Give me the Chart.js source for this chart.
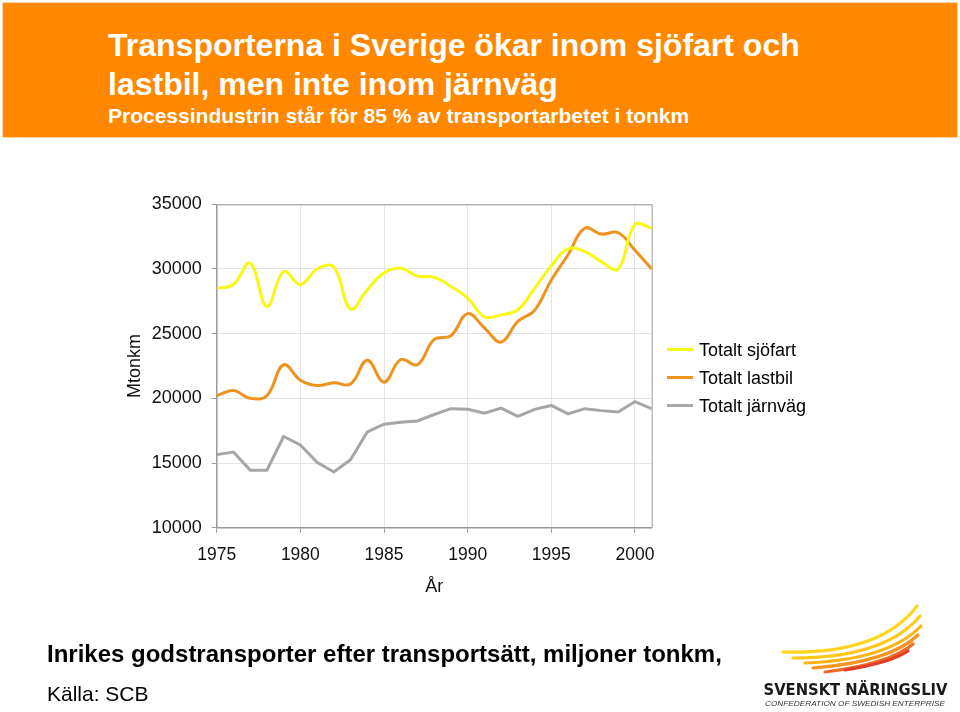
<!DOCTYPE html>
<html>
<head>
<meta charset="utf-8">
<script src="https://cdn.jsdelivr.net/npm/chart.js@4"></script>
<style>
  html, body { margin: 0; padding: 0; background: #fff; }
  body { width: 960px; height: 712px; position: relative; overflow: hidden;
         font-family: 'Liberation Sans', Arial, Helvetica, sans-serif; }
  #c { position: absolute; left: 0; top: 0; }
  .abs { position: absolute; white-space: nowrap; }
  #header { left: 2px; top: 2px; width: 954px; height: 134px; background: #FF8800;
            border: 1px solid #FFD6A3; }
  .t1 { left: 108px; top: 26px; font-size: 32px; line-height: 39px; font-weight: bold; color: #fff; }
  .t2 { left: 108px; top: 105px; font-size: 21px; line-height: 21px; font-weight: bold; color: #fff; }
  .f1 { left: 47px; top: 642px; font-size: 24px; line-height: 24px; font-weight: bold; color: #000; }
  .f2 { left: 47px; top: 683px; font-size: 21px; line-height: 21px; color: #000; }
  .lg-line { position: absolute; left: 667px; width: 26px; height: 3px; }
  .lg-text { position: absolute; left: 699px; font-size: 18px; line-height: 18px; color: #000; white-space: nowrap; }
</style>
</head>
<body>
<canvas id="c" width="960" height="712"></canvas>
<div id="header" class="abs"></div>
<div class="abs t1">Transporterna i Sverige ökar inom sjöfart och<br>lastbil, men inte inom järnväg</div>
<div class="abs t2">Processindustrin står för 85 % av transportarbetet i tonkm</div>
<div id="legend"></div>
<div class="abs f1">Inrikes godstransporter efter transportsätt, miljoner tonkm,</div>
<div class="abs f2">Källa: SCB</div>
<svg class="abs" style="left:750px;top:600px" width="210" height="112" viewBox="0 0 210 112">
  <g fill="none" stroke-linecap="round">
    <path d="M33 52 Q130 55 167 6" stroke="#FFD51F" stroke-width="3.2"/>
    <path d="M43 58 Q135 58 170 16" stroke="#FFC81A" stroke-width="3.2"/>
    <path d="M55 63 Q138 60 171 26" stroke="#FDB515" stroke-width="3.2"/>
    <path d="M63 68 Q140 62 168 35" stroke="#F7941D" stroke-width="3.2"/>
    <path d="M75 72 Q140 64 163 44" stroke="#EF6B22" stroke-width="3.2"/>
    <path d="M95 70 Q140 63 158 51" stroke="#E53C2A" stroke-width="3.2"/>
  </g>
  <text x="13.5" y="95" font-family="'DejaVu Sans', 'Liberation Sans', Arial, sans-serif" font-weight="bold" font-size="16.5" fill="#1a1a1a" textLength="184" lengthAdjust="spacingAndGlyphs">SVENSKT NÄRINGSLIV</text>
  <text x="15" y="106" font-family="'Liberation Sans', Arial, sans-serif" font-style="italic" font-size="7" fill="#333" textLength="180" lengthAdjust="spacingAndGlyphs">CONFEDERATION OF SWEDISH ENTERPRISE</text>
</svg>
<script>
// ---- data ----
const years = [1975, 1976, 1977, 1978, 1979, 1980, 1981, 1982, 1983, 1984,
               1985, 1986, 1987, 1988, 1989, 1990, 1991, 1992, 1993, 1994,
               1995, 1996, 1997, 1998, 1999, 2000, 2001];
const sjofart = [28500, 28800, 30450, 27100, 29800, 28800, 30000, 30150, 26900, 28400,
                 29700, 30050, 29450, 29350, 28650, 27750, 26300, 26450, 26850, 28500,
                 30250, 31550, 31350, 30550, 30000, 33450, 33150];
const lastbil = [20200, 20600, 20000, 20200, 22600, 21400, 21000, 21200, 21100, 22950,
                 21250, 23000, 22600, 24550, 24850, 26550, 25450, 24350, 25950, 26800,
                 29150, 31100, 33150, 32700, 32800, 31450, 30000];
const jarnvag = [15650, 15850, 14450, 14450, 17050, 16400, 15050, 14300, 15250, 17400,
                 18000, 18150, 18250, 18750, 19200, 19150, 18850, 19250, 18600, 19150,
                 19450, 18800, 19200, 19050, 18950, 19750, 19200];
const seriesNames = ['Totalt sjöfart', 'Totalt lastbil', 'Totalt järnväg'];
const xTickValues = [1975, 1980, 1985, 1990, 1995, 2000];
const yTickValues = [10000, 15000, 20000, 25000, 30000, 35000];

const colors = ['#F8F814', '#F0921E', '#A6A6A6'];
const series = [sjofart, lastbil, jarnvag];
const tensions = [0.4, 0.4, 0];

const datasets = series.map((vals, i) => ({
  label: seriesNames[i],
  data: years.map((yr, k) => ({ x: yr, y: vals[k] })),
  borderColor: colors[i],
  backgroundColor: colors[i],
  borderWidth: 3,
  pointRadius: 0,
  tension: tensions[i],
  fill: false
}));

// HTML legend from the same dataset info
const lg = document.getElementById('legend');
const rowY = [349.3, 377.3, 405.3];
datasets.forEach((ds, i) => {
  const l = document.createElement('div');
  l.className = 'lg-line';
  l.style.top = (rowY[i] - 1.5) + 'px';
  l.style.background = ds.borderColor;
  lg.appendChild(l);
  const t = document.createElement('div');
  t.className = 'lg-text';
  t.style.top = (rowY[i] - 8) + 'px';
  t.textContent = ds.label;
  lg.appendChild(t);
});

const frame = {
  id: 'frame',
  afterDatasetsDraw(chart) {
    const a = chart.chartArea, ctx = chart.ctx;
    ctx.save();
    ctx.strokeStyle = '#9A9A9A';
    ctx.lineWidth = 1;
    ctx.beginPath();
    ctx.moveTo(a.left, a.top + 0.5);
    ctx.lineTo(a.right + 0.5, a.top + 0.5);
    ctx.lineTo(a.right + 0.5, a.bottom);
    ctx.stroke();
    ctx.restore();
  }
};

Chart.defaults.font.family = "'Liberation Sans', Arial, Helvetica, sans-serif";
Chart.defaults.color = '#111';

new Chart(document.getElementById('c'), {
  type: 'line',
  data: { datasets },
  plugins: [frame],
  options: {
    responsive: false,
    animation: false,
    devicePixelRatio: 1,
    layout: { padding: { left: 120, right: 308.3, top: 204.3, bottom: 110.3 } },
    plugins: { legend: { display: false }, tooltip: { enabled: false } },
    scales: {
      x: {
        type: 'linear',
        min: 1975, max: 2001,
        afterFit: s => { s.height = 74; },
        afterBuildTicks: s => { s.ticks = xTickValues.map(v => ({ value: v })); },
        ticks: { font: { size: 17.5 }, padding: 12, maxRotation: 0, autoSkip: false,
                 callback: v => String(v) },
        grid: { color: '#E4E4E4', lineWidth: 1, tickLength: 5, tickColor: '#9A9A9A' },
        border: { color: '#9A9A9A', width: 1.5 },
        title: { display: true, text: 'År', font: { size: 18 }, color: '#111', padding: { top: 4, bottom: 4 } }
      },
      y: {
        min: 10000, max: 35000,
        afterFit: s => { s.width = 96.7; },
        afterBuildTicks: s => { s.ticks = yTickValues.map(v => ({ value: v })); },
        ticks: { font: { size: 18 }, padding: 10, autoSkip: false, callback: v => String(v) },
        grid: { color: '#E4E4E4', lineWidth: 1, tickLength: 5, tickColor: '#9A9A9A' },
        border: { color: '#9A9A9A', width: 1.5 },
        title: { display: true, text: 'Mtonkm', font: { size: 18 }, color: '#111', padding: { top: 4, bottom: 4 } }
      }
    }
  }
});
</script>
</body>
</html>
